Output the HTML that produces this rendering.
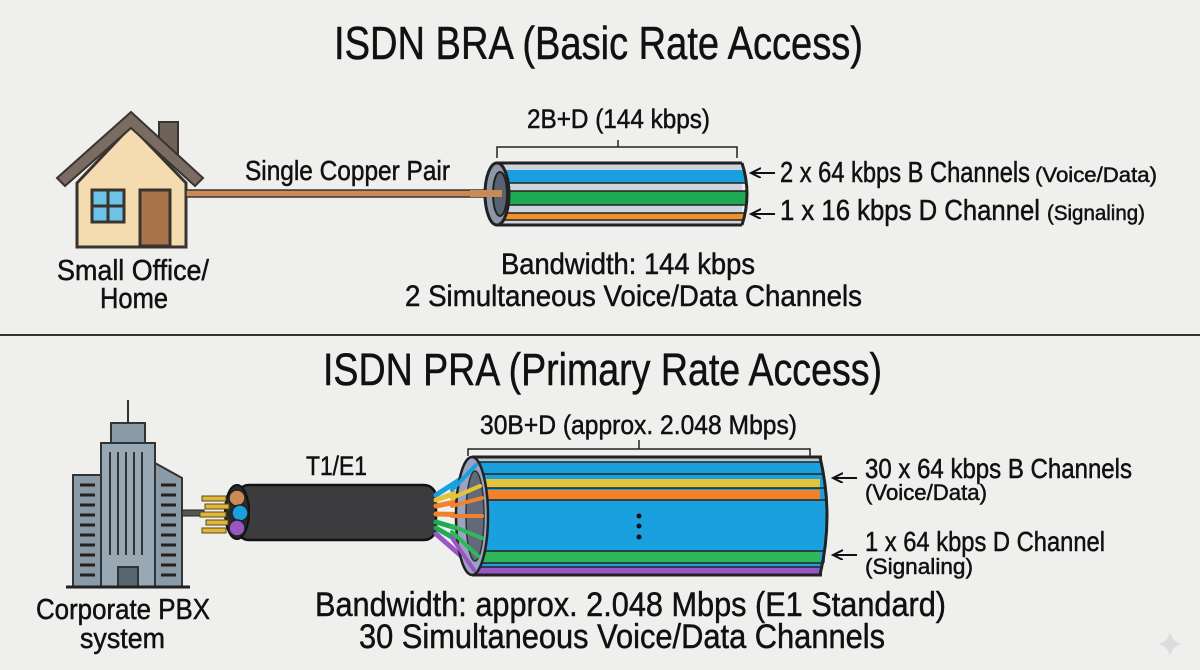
<!DOCTYPE html>
<html><head><meta charset="utf-8"><style>
html,body{margin:0;padding:0;background:#efefed;}
svg{display:block;}
text{font-family:"Liberation Sans",sans-serif;fill:#111;stroke:#111;stroke-width:0.5;}
</style></head><body>
<svg width="1200" height="670" viewBox="0 0 1200 670" xmlns="http://www.w3.org/2000/svg">
<rect width="1200" height="670" fill="#efefed"/>
<defs>
<marker id="ah" markerWidth="12" markerHeight="12" refX="9" refY="5" orient="auto" markerUnits="userSpaceOnUse"><path d="M0,0 L10,5 L0,10" fill="none" stroke="#111" stroke-width="2"/></marker>
</defs>

<text x="334" y="59" font-size="46" textLength="529" lengthAdjust="spacingAndGlyphs">ISDN BRA (Basic Rate Access)</text>
<line x1="0" y1="335" x2="1200" y2="335" stroke="#333" stroke-width="2"/>
<text x="323" y="385" font-size="45" textLength="559" lengthAdjust="spacingAndGlyphs">ISDN PRA (Primary Rate Access)</text>

<rect x="159" y="122" width="19" height="40" fill="#6e6259" stroke="#3a3430" stroke-width="2"/>
<polygon points="77,183 131,126 186,183 186,247 77,247" fill="#f5dcb0" stroke="#3a3430" stroke-width="3"/>
<polygon points="57,178 131,112 203,178 195,186 131,128 65,186" fill="#7a6c63" stroke="#3a3430" stroke-width="2"/>
<rect x="92" y="190" width="32" height="32" fill="#6cc3e6" stroke="#3a3430" stroke-width="3"/>
<line x1="108" y1="190" x2="108" y2="222" stroke="#3a3430" stroke-width="3"/>
<line x1="92" y1="206" x2="124" y2="206" stroke="#3a3430" stroke-width="3"/>
<rect x="140" y="190" width="30" height="56" fill="#a9744a" stroke="#3a3430" stroke-width="3"/>
<text x="57" y="280" font-size="29" textLength="152" lengthAdjust="spacingAndGlyphs">Small Office/</text>
<text x="100" y="308" font-size="29" textLength="68" lengthAdjust="spacingAndGlyphs">Home</text>

<rect x="186" y="190" width="316" height="7" fill="#c98a55" stroke="#3a3430" stroke-width="1.5"/>
<text x="245" y="180" font-size="28" textLength="205" lengthAdjust="spacingAndGlyphs">Single Copper Pair</text>

<g>
<rect x="496" y="163" width="246" height="62" fill="#cfd3dc"/>
<rect x="496" y="170" width="249" height="13" fill="#1aa0df"/>
<rect x="496" y="191" width="250" height="14" fill="#1eaa55"/>
<rect x="496" y="213" width="248" height="7" fill="#f0922c"/>
<line x1="496" y1="183" x2="745" y2="183" stroke="#222" stroke-width="1.5"/>
<line x1="496" y1="191" x2="746" y2="191" stroke="#222" stroke-width="1.5"/>
<line x1="496" y1="205" x2="746" y2="205" stroke="#222" stroke-width="1.5"/>
<line x1="496" y1="213" x2="745" y2="213" stroke="#222" stroke-width="1.5"/>
<line x1="496" y1="220" x2="744" y2="220" stroke="#222" stroke-width="1.5"/>
<line x1="496" y1="163" x2="742" y2="163" stroke="#222" stroke-width="3"/>
<line x1="496" y1="225" x2="742" y2="225" stroke="#222" stroke-width="3"/>
<path d="M742,163 Q752,194 742,225" fill="none" stroke="#222" stroke-width="3"/>
<ellipse cx="497" cy="194" rx="12" ry="31" fill="#8e97a6" stroke="#222" stroke-width="3"/>
<ellipse cx="500" cy="194" rx="7" ry="22" fill="#596270" stroke="#222" stroke-width="2"/>
<rect x="470" y="190" width="32" height="7" fill="#c98a55"/>
</g>
<polyline points="497,158 497,147 737,147 737,158" fill="none" stroke="#222" stroke-width="1.5"/>
<line x1="618" y1="140" x2="618" y2="147" stroke="#222" stroke-width="1.5"/>
<text x="527" y="128" font-size="27" textLength="183" lengthAdjust="spacingAndGlyphs">2B+D (144 kbps)</text>
<line x1="775" y1="173" x2="752" y2="173" stroke="#111" stroke-width="2" marker-end="url(#ah)"/>
<line x1="775" y1="214" x2="752" y2="214" stroke="#111" stroke-width="2" marker-end="url(#ah)"/>
<text x="780" y="182" font-size="29" textLength="250" lengthAdjust="spacingAndGlyphs">2 x 64 kbps B Channels</text>
<text x="1035" y="182" font-size="21" textLength="122" lengthAdjust="spacingAndGlyphs">(Voice/Data)</text>
<text x="780" y="220" font-size="29" textLength="260" lengthAdjust="spacingAndGlyphs">1 x 16 kbps D Channel</text>
<text x="1047" y="220" font-size="21" textLength="98" lengthAdjust="spacingAndGlyphs">(Signaling)</text>
<text x="501" y="274" font-size="30" textLength="254" lengthAdjust="spacingAndGlyphs">Bandwidth: 144 kbps</text>
<text x="405" y="306" font-size="30" textLength="457" lengthAdjust="spacingAndGlyphs">2 Simultaneous Voice/Data Channels</text>

<line x1="128" y1="400" x2="128" y2="425" stroke="#333" stroke-width="2"/>
<rect x="111" y="423" width="34" height="20" fill="#8a9aa6" stroke="#333" stroke-width="2"/>
<rect x="73" y="475" width="28" height="112" fill="#8a9aa6" stroke="#333" stroke-width="2"/>
<polygon points="155,463 182,478 182,587 155,587" fill="#8a9aa6" stroke="#333" stroke-width="2"/>
<rect x="101" y="443" width="54" height="144" fill="#98a8b4" stroke="#333" stroke-width="2"/>
<g stroke="#333" stroke-width="2">
<line x1="110" y1="452" x2="110" y2="555"/><line x1="118" y1="452" x2="118" y2="555"/><line x1="126" y1="452" x2="126" y2="555"/><line x1="134" y1="452" x2="134" y2="555"/><line x1="142" y1="452" x2="142" y2="555"/>
</g>
<g stroke="#222" stroke-width="3">
<line x1="80" y1="485" x2="95" y2="485"/><line x1="80" y1="495" x2="95" y2="495"/><line x1="80" y1="505" x2="95" y2="505"/><line x1="80" y1="515" x2="95" y2="515"/><line x1="80" y1="525" x2="95" y2="525"/><line x1="80" y1="535" x2="95" y2="535"/><line x1="80" y1="545" x2="95" y2="545"/><line x1="80" y1="555" x2="95" y2="555"/><line x1="80" y1="565" x2="95" y2="565"/><line x1="80" y1="575" x2="95" y2="575"/>
<line x1="161" y1="485" x2="176" y2="485"/><line x1="161" y1="495" x2="176" y2="495"/><line x1="161" y1="505" x2="176" y2="505"/><line x1="161" y1="515" x2="176" y2="515"/><line x1="161" y1="525" x2="176" y2="525"/><line x1="161" y1="535" x2="176" y2="535"/><line x1="161" y1="545" x2="176" y2="545"/><line x1="161" y1="555" x2="176" y2="555"/><line x1="161" y1="565" x2="176" y2="565"/><line x1="161" y1="575" x2="176" y2="575"/>
</g>
<rect x="118" y="567" width="20" height="20" fill="#56666f" stroke="#333" stroke-width="2"/>
<line x1="66" y1="587" x2="190" y2="587" stroke="#222" stroke-width="3"/>
<text x="36" y="619" font-size="29" textLength="174" lengthAdjust="spacingAndGlyphs">Corporate PBX</text>
<text x="80" y="648" font-size="29" textLength="85" lengthAdjust="spacingAndGlyphs">system</text>

<rect x="182" y="510" width="22" height="6" fill="#555" stroke="#222" stroke-width="1"/>
<rect x="237" y="485" width="199" height="55" rx="12" fill="#3c3c3e" stroke="#111" stroke-width="2.5"/>
<ellipse cx="237" cy="512" rx="12" ry="27" fill="#2a2a2c" stroke="#111" stroke-width="2"/>
<circle cx="237" cy="498" r="8" fill="#c98a55" stroke="#222" stroke-width="1.5"/>
<circle cx="240" cy="513" r="8" fill="#1aa0df" stroke="#222" stroke-width="1.5"/>
<circle cx="237" cy="528" r="8" fill="#9a55c5" stroke="#222" stroke-width="1.5"/>
<g fill="#e2b63a" stroke="#5a4a1a" stroke-width="1">
<rect x="202" y="496" width="24" height="5"/><rect x="205" y="504" width="24" height="5"/><rect x="200" y="512" width="26" height="5"/><rect x="206" y="520" width="22" height="5"/><rect x="202" y="528" width="24" height="5"/>
</g>
<text x="306" y="475" font-size="27" textLength="61" lengthAdjust="spacingAndGlyphs">T1/E1</text>

<g stroke-width="5" stroke-linecap="round">
<line x1="436" y1="495" x2="475" y2="470" stroke="#1aa0df"/>
<line x1="436" y1="500" x2="478" y2="485" stroke="#e2c43a"/>
<line x1="436" y1="506" x2="480" y2="497" stroke="#f0822c"/>
<line x1="436" y1="514" x2="480" y2="515" stroke="#f0822c"/>
<line x1="436" y1="522" x2="480" y2="535" stroke="#1eaa55"/>
<line x1="436" y1="528" x2="478" y2="552" stroke="#1eaa55"/>
<line x1="436" y1="534" x2="475" y2="568" stroke="#9a55c5"/>
</g>

<rect x="472" y="457" width="350" height="118" fill="#1aa0df"/>
<rect x="472" y="457" width="350" height="5" fill="#b8c2d4"/>
<rect x="472" y="479" width="353" height="9" fill="#e2c43a"/>
<rect x="472" y="490" width="354" height="10" fill="#f0822c"/>
<rect x="472" y="551" width="353" height="12" fill="#2fb85a"/>
<rect x="472" y="567" width="350" height="8" fill="#9a55c5"/>
<path d="M820,457 Q834,516 820,575 Z" fill="#1aa0df"/>
<g stroke="#222" stroke-width="1.5">
<line x1="472" y1="462" x2="822" y2="462"/><line x1="472" y1="474" x2="824" y2="474"/><line x1="472" y1="488" x2="825" y2="488"/><line x1="472" y1="500" x2="826" y2="500"/><line x1="472" y1="551" x2="825" y2="551"/><line x1="472" y1="563" x2="824" y2="563"/><line x1="472" y1="567" x2="823" y2="567"/>
</g>
<line x1="472" y1="457" x2="822" y2="457" stroke="#222" stroke-width="3"/>
<line x1="472" y1="575" x2="822" y2="575" stroke="#222" stroke-width="3"/>
<path d="M820,457 Q834,516 820,575" fill="none" stroke="#222" stroke-width="3"/>
<ellipse cx="472" cy="516" rx="16" ry="59" fill="#9aa3c2" stroke="#222" stroke-width="2.5"/>
<ellipse cx="475" cy="516" rx="9" ry="45" fill="#626a7a" stroke="#333" stroke-width="1.5"/>
<g stroke-width="4" stroke-linecap="round">
<line x1="452" y1="490" x2="476" y2="465" stroke="#1aa0df"/>
<line x1="452" y1="498" x2="480" y2="486" stroke="#e2c43a"/>
<line x1="452" y1="506" x2="482" y2="498" stroke="#f0822c"/>
<line x1="452" y1="516" x2="482" y2="516" stroke="#f0822c"/>
<line x1="452" y1="526" x2="482" y2="538" stroke="#2fb85a"/>
<line x1="452" y1="532" x2="478" y2="556" stroke="#2fb85a"/>
<line x1="452" y1="538" x2="474" y2="570" stroke="#9a55c5"/>
</g>
<circle cx="639" cy="516" r="2.5" fill="#111"/><circle cx="639" cy="526" r="2.5" fill="#111"/><circle cx="639" cy="537" r="2.5" fill="#111"/>
<polyline points="468,456 468,449 810,449 810,456" fill="none" stroke="#222" stroke-width="1.5"/>
<line x1="639" y1="440" x2="639" y2="449" stroke="#222" stroke-width="1.5"/>
<text x="480" y="434" font-size="27" textLength="317" lengthAdjust="spacingAndGlyphs">30B+D (approx. 2.048 Mbps)</text>
<line x1="857" y1="478" x2="834" y2="478" stroke="#111" stroke-width="2" marker-end="url(#ah)"/>
<line x1="857" y1="555" x2="834" y2="555" stroke="#111" stroke-width="2" marker-end="url(#ah)"/>
<text x="865" y="478" font-size="28" textLength="267" lengthAdjust="spacingAndGlyphs">30 x 64 kbps B Channels</text>
<text x="865" y="500" font-size="22" textLength="122" lengthAdjust="spacingAndGlyphs">(Voice/Data)</text>
<text x="865" y="551" font-size="28" textLength="240" lengthAdjust="spacingAndGlyphs">1 x 64 kbps D Channel</text>
<text x="865" y="574" font-size="22" textLength="108" lengthAdjust="spacingAndGlyphs">(Signaling)</text>
<text x="315" y="616" font-size="34" textLength="631" lengthAdjust="spacingAndGlyphs">Bandwidth: approx. 2.048 Mbps (E1 Standard)</text>
<text x="359" y="648" font-size="34" textLength="526" lengthAdjust="spacingAndGlyphs">30 Simultaneous Voice/Data Channels</text>

<path d="M1170,632 Q1172,642 1182,644 Q1172,646 1170,656 Q1168,646 1158,644 Q1168,642 1170,632Z" fill="#dcdcdc"/>
</svg>
</body></html>
